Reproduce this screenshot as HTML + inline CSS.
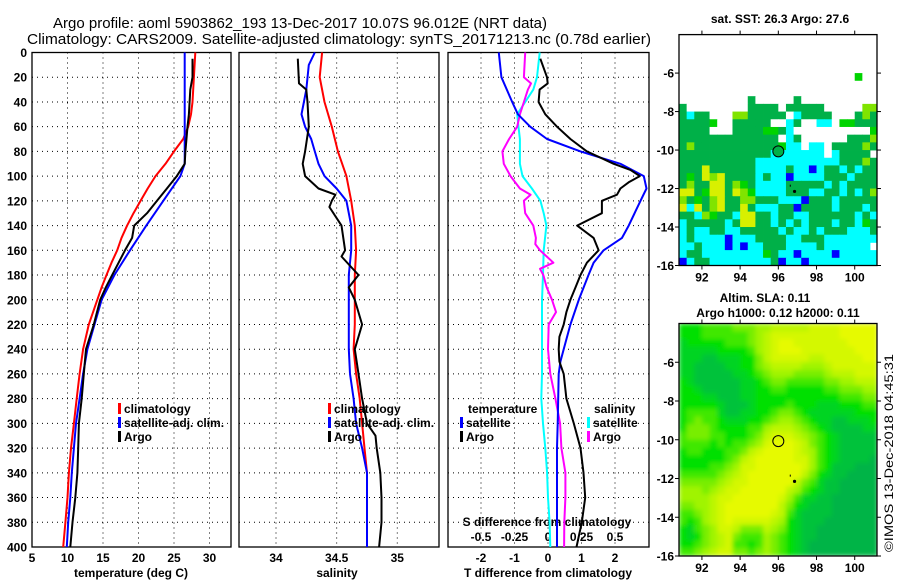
<!DOCTYPE html>
<html><head><meta charset="utf-8"><style>
html,body{margin:0;padding:0;background:#fff;}
svg{display:block;font-family:"Liberation Sans",sans-serif;}
.tk{font-size:12px;font-weight:bold;fill:#000;}
</style></head><body>
<svg id="chart" width="900" height="580" viewBox="0 0 900 580" xmlns="http://www.w3.org/2000/svg">
<text x="53" y="28" font-size="15" textLength="494" lengthAdjust="spacingAndGlyphs">Argo profile: aoml 5903862_193 13-Dec-2017 10.07S 96.012E (NRT data)</text>
<text x="27" y="44" font-size="15" textLength="624" lengthAdjust="spacingAndGlyphs">Climatology: CARS2009. Satellite-adjusted climatology: synTS_20171213.nc (0.78d earlier)</text>
<g id="g1"></g>
<g id="g2"></g>
<g id="g3"></g>
<g id="m1"></g>
<g id="m2"></g>
<text x="780" y="23" class="tk" text-anchor="middle">sat. SST: 26.3 Argo: 27.6</text>
<text x="765" y="302" class="tk" text-anchor="middle">Altim. SLA: 0.11</text>
<text x="778" y="317" class="tk" text-anchor="middle">Argo h1000: 0.12 h2000: 0.11</text>
<text transform="translate(893,552) rotate(-90)" font-size="12" textLength="198" lengthAdjust="spacingAndGlyphs">©IMOS 13-Dec-2018 04:45:31</text>
</svg>
<script>
// ---- data ----
const depthTicks=[0,20,40,60,80,100,120,140,160,180,200,220,240,260,280,300,320,340,360,380,400];
const tTicks=[5,10,15,20,25,30];
const sTicks=[34,34.5,35];
const dTTicks=[-2,-1,0,1,2];
const dSTickLabels=["-0.5","-0.25","0","0.25","0.5"];
const dSTicks=[-0.5,-0.25,0,0.25,0.5];

const climTDepth=[0,10,20,30,40,50,60,70,80,90,100,110,120,130,140,150,160,170,180,190,200,220,240,260,280,300,320,340,360,380,400];
const climT=[28.0,27.9,27.8,27.7,27.6,27.4,27.0,26.3,25.0,23.8,22.4,21.3,20.3,19.3,18.4,17.6,17.0,16.2,15.5,14.8,14.2,13.0,12.2,11.7,11.3,10.9,10.5,10.2,10.0,9.7,9.4];
const satTDepth=[0,90,100,120,140,160,180,200,220,240,260,280,300,320,340,360,380,400];
const satT=[26.5,26.5,25.9,23.5,21.1,18.8,16.6,14.8,13.8,12.8,12.2,11.7,11.2,10.9,10.6,10.4,10.1,9.9];
const argoTDepth=[5,20,30,50,60,80,90,100,110,120,130,140,150,160,170,180,190,200,220,240,260,280,300,320,340,360,380,400];
const argoT=[27.6,27.6,27.3,27.1,26.9,26.6,26.5,25.4,24.0,22.6,21.2,19.4,19.1,18.1,17.2,16.3,15.4,14.6,13.7,12.6,12.3,12.0,11.6,11.5,11.4,11.1,10.7,10.4];

const climSDepth=[0,20,40,60,80,100,120,140,160,180,200,220,240,260,280,300,320,340,400];
const climS=[34.38,34.36,34.40,34.46,34.51,34.58,34.62,34.65,34.66,34.65,34.65,34.65,34.64,34.66,34.69,34.71,34.73,34.75,34.75];
const satSDepth=[0,10,30,40,50,60,70,80,90,100,110,120,140,160,180,200,240,260,280,300,320,340,400];
const satS=[34.32,34.27,34.25,34.23,34.21,34.24,34.29,34.32,34.35,34.40,34.50,34.58,34.62,34.62,34.60,34.60,34.60,34.61,34.64,34.66,34.71,34.75,34.75];
const argoSDepth=[5,25,30,40,60,80,90,100,110,115,120,125,140,160,165,180,190,200,220,240,260,280,300,310,320,340,360,380,400];
const argoS=[34.18,34.19,34.25,34.26,34.27,34.24,34.22,34.24,34.35,34.49,34.46,34.44,34.54,34.57,34.54,34.68,34.60,34.65,34.71,34.65,34.68,34.71,34.75,34.82,34.83,34.86,34.87,34.87,34.85];

const dTsatDepth=[0,20,40,50,60,70,80,90,100,110,120,140,150,160,170,180,200,220,240,250,260,300,320,400];
const dTsat=[-1.47,-1.39,-1.07,-0.9,-0.53,-0.03,0.97,2.16,2.86,2.94,2.76,2.41,2.21,1.66,1.36,1.21,0.92,0.67,0.47,0.37,0.32,0.29,0.27,0.27];
const dTargoDepth=[5,20,25,30,40,50,60,70,80,90,95,100,105,110,115,120,130,140,150,160,170,180,190,200,210,220,230,240,250,260,280,300,320,340,360,380,400];
const dTargo=[-0.23,-0.03,-0.01,-0.25,-0.28,-0.08,0.27,0.67,1.16,1.96,2.46,2.74,2.41,2.16,2.06,1.61,1.61,0.87,1.36,1.51,1.16,0.97,0.82,0.67,0.55,0.47,0.34,0.32,0.34,0.47,0.55,0.77,0.97,1.06,1.11,1.01,0.85];
const dSsatDepth=[0,20,30,40,50,60,70,90,100,110,120,130,140,160,180,200,260,280,300,320,340,360,380,400];
const dSsat=[-0.062,-0.082,-0.11,-0.17,-0.23,-0.22,-0.21,-0.21,-0.19,-0.12,-0.057,-0.032,-0.012,-0.032,-0.037,-0.045,-0.045,-0.05,-0.037,-0.02,-0.007,0,0.012,0.017];
const dSargoDepth=[0,20,25,30,40,50,60,70,80,90,100,110,115,120,130,140,150,155,160,170,175,180,190,200,210,220,240,260,280,300,320,340,360,380,400];
const dSargo=[-0.17,-0.18,-0.127,-0.15,-0.18,-0.21,-0.23,-0.29,-0.34,-0.33,-0.28,-0.21,-0.13,-0.18,-0.17,-0.11,-0.09,-0.095,-0.06,0.04,-0.06,-0.035,-0.01,0.03,0.06,0.005,0,0.017,0.055,0.09,0.10,0.13,0.13,0.122,0.12];

// SST map categories: . white, g green, G bright green, l light green, y yellow, c cyan, b blue (0.4 deg cells, lon 90.8+, lat -4 down)
const sstRows=[
"..........................",
"..........................",
"..........................",
"..........................",
"..........................",
".......................G..",
"..........................",
"..........................",
".........g.....g..........",
"g........gggg.ggggg.....ll",
"gcgg...llggggg.cgggg...glg",
"ggggG..ggggg..cg..cc.GGggg",
"gggg...ggggGGgc..........G",
"ggggggggggggg.cg......gggl",
"glgggggggggggGcc.cc.gggglg",
"ggggggggggggccccccc.cgggg",
"ggggggggggcccccccccccggglg",
"gggyggggggccccgccbcggcgcgg",
"gGgylyggggcgccbccccgggcggg",
"glggyyglGgccccgggggcgcgggg",
"yygGyygylGccccgggccggcgcgl",
"lgGglyggllgggcccbgggcggggg",
"ycyglyggygcccggbggggcgggcg",
"ggclGggcyyggcggccggggggcgc",
"cgggggcgyyggcgcgcgggcggcGg",
"cgccggccgggggcgccgcgggcccg",
"cgccccbcccggggccgggccccccc",
"ccgcccbcbccgggccccgcccccc",
"cggccccccccGgccbccccbccccc",
"bcggccccccccgbccbcccccccccc"];
const sstColors={".":"#ffffff",g:"#00b048",G:"#00d400",l:"#80e400",y:"#d8f000",c:"#00ffff",b:"#0000ff"};

const slaRows=[
"33344445556677777888899999",
"33344444456788888888899999",
"23333344456789988888889999",
"22222333346789998888888999",
"22211222335788888778888899",
"22111122335677776667888888",
"22111112234566655556777888",
"32111111223455444445566777",
"33211111223344333334455566",
"33322111223333333333344455",
"33333211123333433322233344",
"34444211223345543222222333",
"34544322233456654322112223",
"35554333344677765432111122",
"45554433345788876543211111",
"44443434456899987543211111",
"34433344578999987643211111",
"33333345789999988643211110",
"33334456889999998643111000",
"44444567899999997532110000",
"55555678899999975421100000",
"66656788999999764321100000",
"66667889999998642211000000",
"55667899999997532111000000",
"44567899999987421111000000",
"43467898888876321110000000",
"32456887555765321100000000",
"32356785444654321100000000",
"33456784434654321000000000",
"44567885545654321000000000"];
const slaColors=["#00b446","#00c23a","#00d420","#00e000","#40e800","#78ee00","#a0f400","#bcf600","#d4f800","#e6fa00"];

const floatLon=[96.0];
const floatLat=[-10.07];

// ---- helpers ----
const NS="http://www.w3.org/2000/svg";
function mk(parent,tag,attrs){const e=document.createElementNS(NS,tag);for(const k in attrs)e.setAttribute(k,attrs[k]);parent.appendChild(e);return e;}
const y0=52.5,y1=547;
const dy=d=>y0+d*(y1-y0)/400;
const xT=t=>32+(t-5)*7.1;
const xS=s=>276+(s-34)*121.3;
const xdT=t=>548+t*33.5;
const xdS=s=>548+s*134;

function panel(g,xl,xr,xgrid,name){
  depthTicks.forEach(d=>{if(d>0&&d<400){const l=mk(g,'line',{x1:xl,x2:xr,y1:dy(d),y2:dy(d),stroke:'#000','stroke-width':1,'stroke-dasharray':'1,4'});
  
  }});
  xgrid.forEach(x=>{const l=mk(g,'line',{x1:x,x2:x,y1:y0,y2:y1,stroke:'#000','stroke-width':1,'stroke-dasharray':'1,4'});
  
  });
  const r=mk(g,'rect',{x:xl,y:y0,width:xr-xl,height:y1-y0,fill:'none',stroke:'#000','stroke-width':1.3});
  
  
}
function line(g,xs,ds,xf,color,w,name){
  const p=mk(g,'polyline',{points:xs.map((v,i)=>xf(v).toFixed(1)+','+dy(ds[i]).toFixed(1)).join(' '),fill:'none',stroke:color,'stroke-width':w,'stroke-linejoin':'round'});
  
  
}
function txt(g,x,y,s,anchor,name,extra){
  const t=mk(g,'text',Object.assign({x:x,y:y,class:'tk','text-anchor':anchor||'start'},extra||{}));t.textContent=s;
  
  
  return t;
}
function legend(g,x,y,color,label,name){
  const r=mk(g,'rect',{x:x,y:y-10,width:3,height:11,fill:color});
  
  
  txt(g,x+6,y,label,'start',name);
}

// ---- panel 1 ----
const g1=document.getElementById('g1');
panel(g1,32,231,tTicks.filter(t=>t>5).map(xT),'temp');
depthTicks.forEach(d=>txt(g1,27,dy(d)+4.5,String(d),'end','depth-tick-label'));
tTicks.forEach(t=>txt(g1,xT(t),562,String(t),'middle','temp-tick-label'));
txt(g1,131,577,'temperature (deg C)','middle','temp-axis-title');
line(g1,climT,climTDepth,xT,'#ff0000',2,'temp-climatology-line');
line(g1,satT,satTDepth,xT,'#0000ff',2,'temp-satellite-line');
line(g1,argoT,argoTDepth,xT,'#000000',2,'temp-argo-line');
legend(g1,118,413,'#ff0000','climatology','legend-climatology');
legend(g1,118,427,'#0000ff','satellite-adj. clim.','legend-satellite-adj');
legend(g1,118,441,'#000000','Argo','legend-argo');

// ---- panel 2 ----
const g2=document.getElementById('g2');
panel(g2,239,439,sTicks.map(xS),'sal');
sTicks.forEach(s=>txt(g2,xS(s),562,String(s),'middle','sal-tick-label'));
txt(g2,337,577,'salinity','middle','sal-axis-title');
line(g2,climS,climSDepth,xS,'#ff0000',2,'sal-climatology-line');
line(g2,satS,satSDepth,xS,'#0000ff',2,'sal-satellite-line');
line(g2,argoS,argoSDepth,xS,'#000000',2,'sal-argo-line');
legend(g2,328,413,'#ff0000','climatology','legend-sal-climatology');
legend(g2,328,427,'#0000ff','satellite-adj. clim.','legend-sal-satellite-adj');
legend(g2,328,441,'#000000','Argo','legend-sal-argo');

// ---- panel 3 ----
const g3=document.getElementById('g3');
panel(g3,448,649,dTTicks.map(xdT),'diff');
dTTicks.forEach(t=>txt(g3,xdT(t),562,String(t),'middle','dt-tick-label'));
txt(g3,548,577,'T difference from climatology','middle','dt-axis-title');
txt(g3,547,526,'S difference from climatology','middle','ds-axis-title');
dSTicks.forEach((s,i)=>txt(g3,xdS(s),541,dSTickLabels[i],'middle','ds-tick-label'));
line(g3,dSsat,dSsatDepth,xdS,'#00ffff',2,'ds-satellite-line');
line(g3,dSargo,dSargoDepth,xdS,'#ff00ff',2,'ds-argo-line');
line(g3,dTsat,dTsatDepth,xdT,'#0000ff',2,'dt-satellite-line');
line(g3,dTargo,dTargoDepth,xdT,'#000000',2,'dt-argo-line');
txt(g3,468,413,'temperature','start','legend-temperature-heading');
legend(g3,460,427,'#0000ff','satellite','legend-dt-satellite');
legend(g3,460,441,'#000000','Argo','legend-dt-argo');
txt(g3,594,413,'salinity','start','legend-salinity-heading');
legend(g3,587,427,'#00ffff','satellite','legend-ds-satellite');
legend(g3,587,441,'#ff00ff','Argo','legend-ds-argo');

// ---- maps ----
function map(id,top,bottom,rows,colorOf,blur,name){
  const g=document.getElementById(id);
  const xl=679,xr=877;
  const lon=l=>xl+(l-90.8)*19.1;
  const lat=a=>top+(-4-a)*((bottom-top)/12);
  const cid='clip'+id;
  const cp=mk(g,'clipPath',{id:cid});mk(cp,'rect',{x:xl,y:top,width:xr-xl,height:bottom-top});
  const cells=mk(g,'g',{'clip-path':'url(#'+cid+')'});
  const inner=mk(cells,'g',blur?{filter:'url(#bl)'}:{});
  rows.forEach((row,r)=>{for(let c=0;c<row.length;c++){
    const x=lon(90.8+c*0.4),y=lat(-4-r*0.4);
    const rc=mk(inner,'rect',{x:x.toFixed(2),y:y.toFixed(2),width:(lon(0.4)-lon(0)+0.4).toFixed(2),height:(lat(-0.4)-lat(0)+0.4).toFixed(2),fill:colorOf(row[c])});
    
    
  }});
  const fr=mk(g,'rect',{x:xl,y:top,width:xr-xl,height:bottom-top,fill:'none',stroke:'#000','stroke-width':1.3});
  
  
  [92,94,96,98,100].forEach(l=>{
    mk(g,'line',{x1:lon(l),x2:lon(l),y1:bottom,y2:bottom+4,stroke:'#000'});
    mk(g,'line',{x1:lon(l),x2:lon(l),y1:top,y2:top-4,stroke:'#000'});
    txt(g,lon(l),bottom+16,String(l),'middle',name+'-lon-label');
  });
  [-6,-8,-10,-12,-14,-16].forEach(a=>{
    mk(g,'line',{x1:xl,x2:xl-4,y1:lat(a),y2:lat(a),stroke:'#000'});
    mk(g,'line',{x1:xr,x2:xr+4,y1:lat(a),y2:lat(a),stroke:'#000'});
    txt(g,xl-5,lat(a)+4.5,String(a),'end',name+'-lat-label');
  });
  floatLon.forEach((l,i)=>{
    const c=mk(g,'circle',{cx:lon(l),cy:lat(floatLat[i]),r:5.5,fill:id==='m1'?'#00b048':'none',stroke:'#000','stroke-width':1});
    
    
  });
  const d=mk(g,'circle',{cx:lon(96.85),cy:lat(-12.15),r:1.6,fill:'#000'});
  
  
  mk(g,'rect',{x:lon(96.6),y:lat(-11.8),width:1,height:2,fill:'#000'});
}
const svg=document.getElementById('chart');
const defs=mk(svg,'defs',{});const f=mk(defs,'filter',{id:'bl',x:'-5%',y:'-5%',width:'110%',height:'110%'});
mk(f,'feGaussianBlur',{stdDeviation:2.5});
map('m1',34.6,265.5,sstRows,ch=>sstColors[ch]||'#00ffff',false,'sst-map');
map('m2',323.5,556,slaRows,ch=>slaColors[+ch],true,'sla-map');
</script>
</body></html>
